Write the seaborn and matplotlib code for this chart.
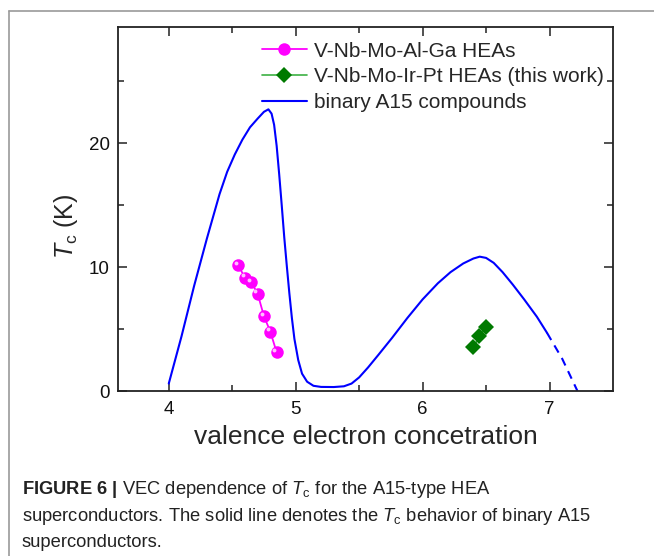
import numpy as np
import matplotlib
matplotlib.use("Agg")
import matplotlib.pyplot as plt
from matplotlib.lines import Line2D
from matplotlib.transforms import ScaledTranslation
import seaborn as sns

# binary A15 compounds (solid part + dashed extrapolation)
a15_vec = [4.0, 4.1, 4.2, 4.3, 4.4, 4.46, 4.52, 4.58, 4.64, 4.70, 4.75, 4.785, 4.81, 4.83,
           4.85, 4.87, 4.89, 4.91, 4.93, 4.95, 4.97, 4.99, 5.02, 5.05, 5.09, 5.14,
           5.2, 5.3, 5.38, 5.44, 5.5, 5.57, 5.65, 5.76, 5.88, 6.0, 6.12, 6.22, 6.32,
           6.4, 6.45, 6.5, 6.56, 6.63, 6.71, 6.8, 6.9, 6.98]
a15_tc = [0.6, 4.4, 8.5, 12.3, 15.9, 17.7, 19.1, 20.3, 21.3, 22.0, 22.55, 22.75, 22.4, 21.5,
          19.8, 17.5, 15.0, 12.4, 10.1, 7.9, 5.9, 4.2, 2.5, 1.4, 0.75, 0.42,
          0.33, 0.32, 0.38, 0.6, 1.1, 1.9, 2.9, 4.3, 5.9, 7.4, 8.7, 9.6, 10.3,
          10.7, 10.85, 10.75, 10.35, 9.6, 8.6, 7.4, 6.0, 4.7]
a15_dash_vec = [6.98, 7.1, 7.22]
a15_dash_tc = [4.7, 2.6, 0.0]

# V-Nb-Mo-Al-Ga HEAs
alga_vec = [4.547, 4.60, 4.65, 4.70, 4.75, 4.80, 4.85]
alga_tc = [10.16, 9.16, 8.8, 7.86, 6.04, 4.8, 3.12]

# V-Nb-Mo-Ir-Pt HEAs (this work)
irpt_vec = [6.40, 6.447, 6.50]
irpt_tc = [3.52, 4.42, 5.15]

sns.set_style("ticks")
plt.rcParams['font.family'] = ['Liberation Sans', 'DejaVu Sans']
plt.rcParams['mathtext.fontset'] = 'custom'
plt.rcParams['mathtext.rm'] = 'Liberation Sans'
plt.rcParams['mathtext.it'] = 'Liberation Sans:italic'
plt.rcParams['mathtext.bf'] = 'Liberation Sans:bold'

fig = plt.figure(figsize=(6.54, 5.56), dpi=100)
ax = fig.add_axes([118/654, 1 - 391/556, 495/654, 364/556])

sns.lineplot(x=alga_vec, y=alga_tc, ax=ax, color='#ff00ff', lw=1.3, marker='o',
             markersize=9, markeredgewidth=0, sort=False, label='_nolegend_')
# little highlight to mimic the shaded spheres
hl = ax.transData + ScaledTranslation(-1.6/72, 1.6/72, fig.dpi_scale_trans)
ax.plot(alga_vec, alga_tc, 'o', ms=2.8, color='white', alpha=0.75, mew=0, transform=hl)

sns.lineplot(x=irpt_vec, y=irpt_tc, ax=ax, color='#3cb043', lw=1.2, sort=False,
             label='_nolegend_')
ax.plot(irpt_vec, irpt_tc, 'D', ms=8.5, color='#007a00', mew=0)

sns.lineplot(x=a15_vec, y=a15_tc, ax=ax, color='#0000ff', lw=1.5, sort=False,
             label='_nolegend_')
sns.lineplot(x=a15_dash_vec, y=a15_dash_tc, ax=ax, color='#0000ff', lw=1.5,
             sort=False, linestyle=(0, (4, 3)), label='_nolegend_')

handles = [
    Line2D([], [], color='#ff00ff', lw=1.3, marker='o', ms=9, mew=0),
    Line2D([], [], color='#3cb043', lw=1.2, marker='D', ms=8, mew=0,
           markerfacecolor='#007a00'),
    Line2D([], [], color='#0000ff', lw=1.5),
]
labels = ['V-Nb-Mo-Al-Ga HEAs', 'V-Nb-Mo-Ir-Pt HEAs (this work)', 'binary A15 compounds']
ax.legend(handles, labels, loc='upper left', bbox_to_anchor=(0.29, 0.96),
          frameon=False, fontsize=15, handlelength=2.2, handletextpad=0.3,
          labelspacing=0.32, borderpad=0, borderaxespad=0)

ax.set_xlim(3.6, 7.5)
ax.set_ylim(0, 29.4)
ax.set_xticks([4, 5, 6, 7])
ax.set_xticks([4.5, 5.5, 6.5], minor=True)
ax.set_yticks([0, 10, 20])
ax.set_yticks([5, 15, 25], minor=True)
ax.tick_params(which='both', direction='in', top=True, right=True,
               labelsize=13.5, width=1.2, color='#333333', labelcolor='#111111')
ax.tick_params(axis='x', which='major', pad=7)
ax.tick_params(axis='y', which='major', pad=6)
ax.tick_params(which='major', length=6.5)
ax.tick_params(which='minor', length=4)
for s in ax.spines.values():
    s.set_linewidth(1.3)
    s.set_color('#222222')

ax.set_xlabel('valence electron concetration', fontsize=19, labelpad=5)
ax.set_ylabel(r'$T_\mathrm{c}$ (K)', fontsize=18)
ax.yaxis.set_label_coords(-0.077, 0.453)

# caption below the chart
cap = dict(fontsize=13.2, color='#222222', ha='left', va='baseline')
fig.text(22/654, 1 - 494/556,
         r'$\mathbf{FIGURE\ 6\ |}$ VEC dependence of $T_\mathrm{c}$ for the A15-type HEA', **cap)
fig.text(22/654, 1 - 521/556,
         r'superconductors. The solid line denotes the $T_\mathrm{c}$ behavior of binary A15', **cap)
fig.text(22/654, 1 - 547/556, 'superconductors.', **cap)

# page frame lines (top and left)
fig.add_artist(Line2D([9/654, 1], [1 - 11/556, 1 - 11/556], transform=fig.transFigure,
                      color='#9a9a9a', lw=1.2))
fig.add_artist(Line2D([9/654, 9/654], [0, 1 - 11/556], transform=fig.transFigure,
                      color='#9a9a9a', lw=1.2))

fig.savefig('out.png', dpi=100)
